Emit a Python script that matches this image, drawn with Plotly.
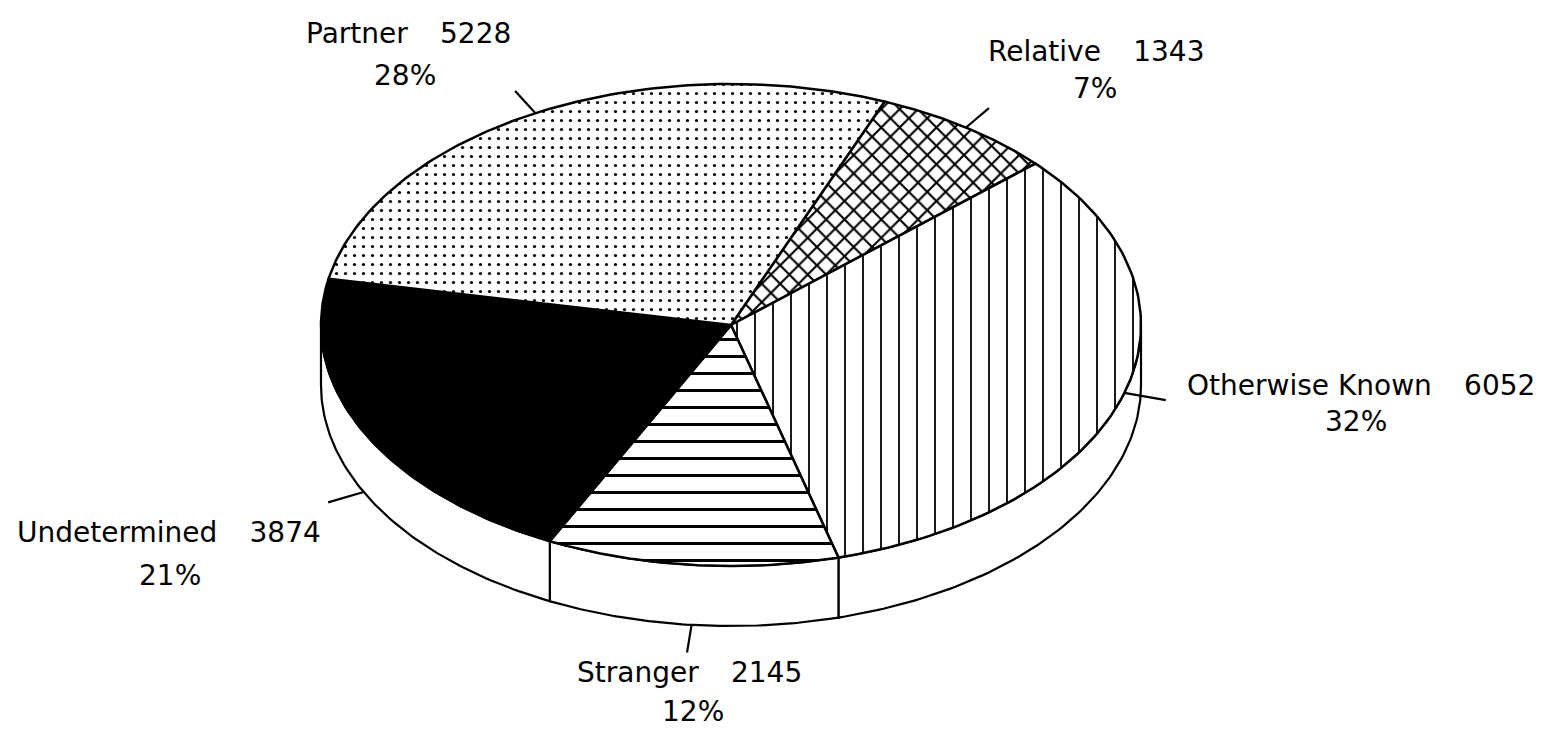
import numpy as np
import plotly.graph_objects as go

# ---- data (clockwise from the top-right) ----
categories = ["Relative", "Otherwise Known", "Stranger", "Undetermined", "Partner"]
values = [1343, 6052, 2145, 3874, 5228]
pct_labels = ["7%", "32%", "12%", "21%", "28%"]

# ---- styles / geometry ----
patterns = [
    dict(shape="x", size=13, solidity=0.3),
    dict(shape="|", size=18, solidity=0.1),
    dict(shape="-", size=17, solidity=0.18),
    None,  # solid black
    dict(shape=".", size=9, solidity=0.1),
]
CX, CY, RX, RY, DEPTH = 723.0, 317.0, 410.0, 241.0, 60.0
START = 68.0
tick_base = ["top", "top", "bottom", "bottom", "top"]
tick_len = [30, 42, 28, 37, 30]
label_pos = [(1088, 43, 1087, 80), (1353, 377, 1348, 413), (681, 664, 685, 703),
             (161, 524, 162, 567), (400, 25, 397, 67)]

total = float(sum(values))


def ex(t):
    return CX + RX * np.cos(np.radians(t))


def ey(t):
    return CY - RY * np.sin(np.radians(t))


fig = go.Figure()
LINE = dict(color="black", width=2.5)

# slice angle ranges
ranges = []
cum = 0.0
for v in values:
    a0 = START - cum / total * 360.0
    a1 = a0 - v / total * 360.0
    ranges.append((a0, a1))
    cum += v

# side walls (front half only)
for (a0, a1) in ranges:
    for shift in (-360.0, 0.0, 360.0):
        hi = min(a0 + shift, 0.0)
        lo = max(a1 + shift, -180.0)
        if hi > lo:
            t = np.linspace(hi, lo, 80)
            xs = np.concatenate([ex(t), ex(t[::-1])])
            ys = np.concatenate([ey(t), ey(t[::-1]) + DEPTH])
            xs = np.append(xs, xs[0])
            ys = np.append(ys, ys[0])
            fig.add_trace(go.Scatter(x=xs, y=ys, mode="lines", fill="toself",
                                     fillcolor="white", line=dict(color="black", width=2.2),
                                     hoverinfo="skip", showlegend=False))

# top faces
for i, (a0, a1) in enumerate(ranges):
    t = np.linspace(a0, a1, 120)
    xs = np.concatenate([[CX], ex(t), [CX]])
    ys = np.concatenate([[CY], ey(t), [CY]])
    kw = dict(x=xs, y=ys, mode="lines", fill="toself", line=LINE,
              hoverinfo="skip", showlegend=False, name=categories[i])
    if patterns[i] is None:
        kw["fillcolor"] = "black"
    else:
        p = patterns[i]
        kw["fillcolor"] = "white"
        kw["fillpattern"] = dict(shape=p["shape"], size=p["size"], solidity=p["solidity"],
                                 fgcolor="black", bgcolor="white", fillmode="replace")
    fig.add_trace(go.Scatter(**kw))

# leader ticks
for i, (a0, a1) in enumerate(ranges):
    m = (a0 + a1) / 2.0
    px = ex(m)
    py = ey(m) + (DEPTH if tick_base[i] == "bottom" else 0.0)
    dx = np.cos(np.radians(m)) * RX
    dy = -np.sin(np.radians(m)) * RY
    n = np.hypot(dx, dy)
    qx = px + dx / n * tick_len[i]
    qy = py + dy / n * tick_len[i]
    fig.add_trace(go.Scatter(x=[px, qx], y=[py, qy], mode="lines",
                             line=dict(color="black", width=2.2),
                             hoverinfo="skip", showlegend=False))

# labels
FONT = dict(family="DejaVu Sans, sans-serif", size=28, color="black")
GAP = "\u00a0\u00a0\u00a0\u2009"
for i, name in enumerate(categories):
    x1, y1, x2, y2 = label_pos[i]
    fig.add_annotation(x=x1, y=y1, text=f"{name}{GAP}{values[i]}",
                       showarrow=False, font=FONT, xanchor="center", yanchor="middle")
    fig.add_annotation(x=x2, y=y2, text=pct_labels[i],
                       showarrow=False, font=FONT, xanchor="center", yanchor="middle")

fig.update_layout(
    width=1552, height=730,
    margin=dict(l=0, r=0, t=0, b=0),
    paper_bgcolor="white", plot_bgcolor="white",
    xaxis=dict(range=[0, 1552], visible=False, fixedrange=True),
    yaxis=dict(range=[730, 0], visible=False, fixedrange=True),
)

fig.write_html("out.html")
